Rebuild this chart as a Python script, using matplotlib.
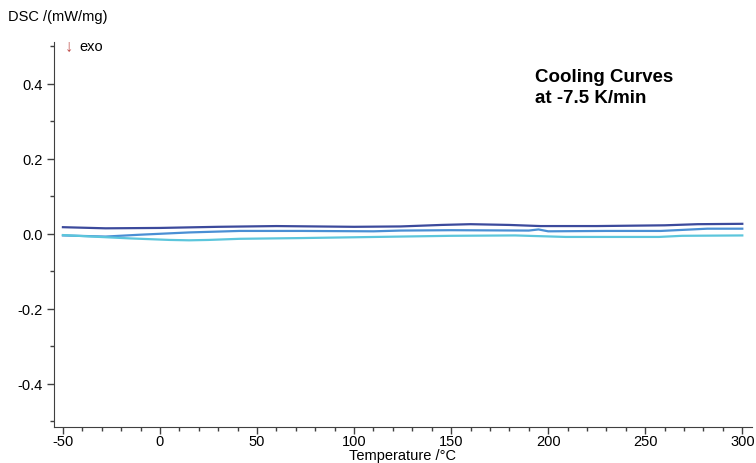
"""
DSC cooling curves at -7.5 K/min
"""

import matplotlib.pyplot as plt
from matplotlib.ticker import MultipleLocator

# temperature points (°C) and DSC signal (mW/mg)
temp_dark = [-50, -28, 0, 30, 60, 100, 124, 145, 160, 180, 196, 225, 260, 277, 300]
dsc_dark = [0.018, 0.015, 0.016, 0.019, 0.021, 0.019, 0.020, 0.024, 0.026, 0.024, 0.021, 0.021, 0.023, 0.026, 0.027]

temp_mid = [-50, -28, -10, 15, 41, 73, 110, 124, 150, 190, 195, 200, 230, 258, 282, 300]
dsc_mid = [-0.004, -0.007, -0.002, 0.004, 0.008, 0.008, 0.007, 0.009, 0.010, 0.009, 0.012, 0.007, 0.008, 0.008, 0.014, 0.014]

temp_light = [-50, -35, -15, 5, 15, 25, 41, 73, 124, 150, 183, 209, 257, 269, 300]
dsc_light = [-0.003, -0.007, -0.012, -0.016, -0.017, -0.016, -0.013, -0.011, -0.007, -0.005, -0.004, -0.008, -0.008, -0.005, -0.004]

plt.rcParams['font.family'] = ['Liberation Sans', 'DejaVu Sans']

fig = plt.figure(figsize=(7.56, 4.64), dpi=100)
ax = fig.add_axes([54 / 756, 36 / 464, 698 / 756, 385 / 464])

ax.plot(temp_dark, dsc_dark, color='#3c4a9c', lw=1.6)
ax.plot(temp_mid, dsc_mid, color='#4a8fd4', lw=1.6)
ax.plot(temp_light, dsc_light, color='#5cc6dc', lw=1.6)

ax.set_xlim(-54.6, 305)
ax.set_ylim(-0.515, 0.512)
ax.xaxis.set_minor_locator(MultipleLocator(10))
ax.yaxis.set_minor_locator(MultipleLocator(0.1))
ax.set_xticks([-50, 0, 50, 100, 150, 200, 250, 300])
ax.set_yticks([-0.4, -0.2, 0.0, 0.2, 0.4])
ax.set_yticklabels(['-0.4', '-0.2', '0.0', '0.2', '0.4'])
ax.set_xticklabels(['-50', '0', '50', '100', '150', '200', '250', '300'])

for s in ['top', 'right']:
    ax.spines[s].set_visible(False)
for s in ['left', 'bottom']:
    ax.spines[s].set_color('#404040')
ax.tick_params(which='major', length=5, width=1, color='#404040', labelsize=10.5)
ax.tick_params(axis='x', which='major', pad=0)
ax.tick_params(axis='y', which='major', pad=3)
ax.tick_params(which='minor', length=3, width=1, color='#404040')

fig.text(403 / 756, 1 - 456 / 464, 'Temperature /°C', fontsize=10.5, va='center', ha='center')
fig.text(8 / 756, 1 - 17 / 464, 'DSC /(mW/mg)', fontsize=10.5, va='center', ha='left')
fig.text(65 / 756, 1 - 47 / 464, '↓', fontsize=12, va='center', ha='left', color='#c0504d')
fig.text(79 / 756, 1 - 47 / 464, 'exo', fontsize=10.5, va='center', ha='left')
fig.text(535 / 756, 1 - 88 / 464, 'Cooling Curves\nat -7.5 K/min', fontsize=13.5,
         fontweight='bold', va='center', ha='left', linespacing=1.35)

plt.savefig('out.png', dpi=100)
